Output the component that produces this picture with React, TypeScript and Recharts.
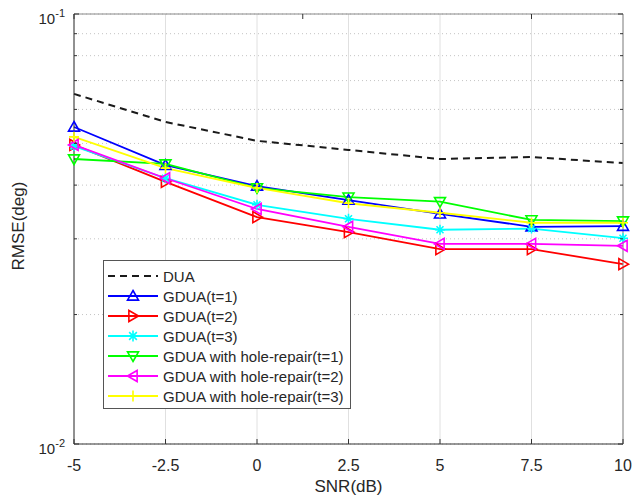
import React from 'react';
import { LineChart, Line, XAxis, YAxis, CartesianGrid, Legend, Label } from 'recharts';

const snr = [-5, -2.5, 0, 2.5, 5, 7.5, 10];
const xTicks = [-5, -2.5, 0, 2.5, 5, 7.5, 10];
const yTicks = [0.01, 0.02, 0.03, 0.04, 0.05, 0.06, 0.07, 0.08, 0.09, 0.1];

const dua = [0.0652, 0.0561, 0.0507, 0.0483, 0.046, 0.0465, 0.045];
const gdua1 = [0.0546, 0.0445, 0.0398, 0.0369, 0.0343, 0.032, 0.0321];
const gdua2 = [0.0496, 0.0407, 0.0337, 0.0311, 0.0284, 0.0284, 0.0262];
const gdua3 = [0.0493, 0.0415, 0.036, 0.0334, 0.0315, 0.0317, 0.0301];
const hr1 = [0.046, 0.0448, 0.0394, 0.0375, 0.0366, 0.0332, 0.033];
const hr2 = [0.0496, 0.0415, 0.0352, 0.032, 0.0292, 0.0292, 0.0289];
const hr3 = [0.0518, 0.0438, 0.0394, 0.0363, 0.0345, 0.0327, 0.0327];

const seriesNames = [
  'DUA',
  'GDUA(t=1)',
  'GDUA(t=2)',
  'GDUA(t=3)',
  'GDUA with hole-repair(t=1)',
  'GDUA with hole-repair(t=2)',
  'GDUA with hole-repair(t=3)',
];
const seriesValues = [dua, gdua1, gdua2, gdua3, hr1, hr2, hr3];
const seriesColors = ['#1a1a1a', '#0000ff', '#ff0000', '#00ffff', '#00ff00', '#ff00ff', '#ffff00'];
const seriesMarkers = ['none', 'up', 'right', 'star', 'down', 'left', 'plus'];

const keys = seriesNames.map((_, i) => `s${i}`);
const data = snr.map((x, j) => {
  const row: any = { snr: x };
  seriesValues.forEach((arr, i) => (row[keys[i]] = arr[j]));
  return row;
});

const FONT = "'Liberation Sans', Arial, sans-serif";
const TEXT = '#262626';

function markerPath(type: string, cx: number, cy: number, r: number): string {
  switch (type) {
    case 'up':
      return `M${cx},${cy - r}L${cx + r},${cy + r * 0.75}L${cx - r},${cy + r * 0.75}Z`;
    case 'down':
      return `M${cx},${cy + r}L${cx + r},${cy - r * 0.75}L${cx - r},${cy - r * 0.75}Z`;
    case 'right':
      return `M${cx + r},${cy}L${cx - r * 0.75},${cy - r}L${cx - r * 0.75},${cy + r}Z`;
    case 'left':
      return `M${cx - r},${cy}L${cx + r * 0.75},${cy - r}L${cx + r * 0.75},${cy + r}Z`;
    case 'plus':
      return `M${cx - r},${cy}L${cx + r},${cy}M${cx},${cy - r}L${cx},${cy + r}`;
    case 'star': {
      const d = r * 0.7;
      return `M${cx - r},${cy}L${cx + r},${cy}M${cx},${cy - r}L${cx},${cy + r}M${cx - d},${cy - d}L${cx + d},${cy + d}M${cx - d},${cy + d}L${cx + d},${cy - d}`;
    }
    default:
      return '';
  }
}

const makeDot = (type: string, color: string) => (props: any) => {
  const { cx, cy, index } = props;
  if (type === 'none' || cx == null || cy == null) return <g key={index} />;
  const r = type === 'plus' || type === 'star' ? 5 : 5.5;
  return (
    <path key={index} d={markerPath(type, cx, cy, r)} fill="none" stroke={color} strokeWidth={1.6} />
  );
};

const isMajor = (v: number) => Math.abs(Math.log10(v) - Math.round(Math.log10(v))) < 1e-9;

const LeftTick = (props: any) => {
  const { x, y, payload } = props;
  const v = payload.value;
  const major = isMajor(v);
  const exp = Math.round(Math.log10(v));
  return (
    <g>
      <line x1={x} x2={x + (major ? 5 : 3)} y1={y} y2={y} stroke="#333" />
      {major && (
        <text x={x - 9} y={y + 10} textAnchor="end" fontSize={15} fontFamily={FONT} fill={TEXT}>
          <tspan>10</tspan>
          <tspan dy={-7} fontSize={11}>{String(exp)}</tspan>
        </text>
      )}
    </g>
  );
};

const RightTick = (props: any) => {
  const { x, y, payload } = props;
  const major = isMajor(payload.value);
  return <line x1={x} x2={x - (major ? 5 : 3)} y1={y} y2={y} stroke="#333" />;
};

const BottomTick = (props: any) => {
  const { x, y, payload } = props;
  return (
    <g>
      <line x1={x} x2={x} y1={y} y2={y - 5} stroke="#333" />
      <text x={x} y={y + 27} textAnchor="middle" fontSize={16} fontFamily={FONT} fill={TEXT}>
        {String(payload.value)}
      </text>
    </g>
  );
};

const TopTick = (props: any) => {
  const { x, y } = props;
  return <line x1={x} x2={x} y1={y} y2={y + 5} stroke="#333" />;
};

const LegendBox = () => (
  <div
    style={{
      width: 246,
      height: 142,
      border: '1px solid #555',
      background: '#fff',
      boxSizing: 'content-box',
      paddingTop: 5,
      fontFamily: FONT,
      fontSize: 15,
      color: TEXT,
    }}
  >
    {seriesNames.map((name, i) => (
      <div key={name} style={{ height: 20, display: 'flex', alignItems: 'center', whiteSpace: 'nowrap' }}>
        <svg width={58} height={20} style={{ display: 'block', flex: 'none' }}>
          <line
            x1={4}
            x2={54}
            y1={10}
            y2={10}
            stroke={seriesColors[i]}
            strokeWidth={i === 0 ? 2 : 1.8}
            strokeDasharray={i === 0 ? '7 5' : undefined}
          />
          {seriesMarkers[i] !== 'none' && (
            <path d={markerPath(seriesMarkers[i], 29, 10, 5.5)} fill="none" stroke={seriesColors[i]} strokeWidth={1.6} />
          )}
        </svg>
        <span style={{ marginLeft: 1 }}>{name}</span>
      </div>
    ))}
  </div>
);

export default function App() {
  return (
    <div style={{ position: 'absolute', left: 0, top: 0, width: 634, height: 504, background: '#fff' }}>
      <LineChart width={634} height={504} data={data} margin={{ top: 0, right: 0, bottom: 0, left: 0 }}>
        <CartesianGrid vertical={true} horizontal={false} stroke="#e0e0e0" />
        <CartesianGrid vertical={false} horizontal={true} stroke="#c4c4c4" strokeDasharray="1 3" />
        <XAxis
          dataKey="snr"
          type="number"
          domain={[-5, 10]}
          ticks={xTicks}
          height={60}
          tickSize={0}
          tickMargin={0}
          tickLine={false}
          tick={<BottomTick />}
          stroke="#333"
          interval={0}
        >
          <Label
            content={(p: any) => {
              const vb = p.viewBox;
              return (
                <text x={vb.x + vb.width / 2} y={vb.y + 48} textAnchor="middle" fontSize={17} fontFamily={FONT} fill={TEXT}>
                  SNR(dB)
                </text>
              );
            }}
          />
        </XAxis>
        <XAxis
          xAxisId="top"
          orientation="top"
          type="number"
          domain={[-5, 10]}
          ticks={xTicks}
          height={14}
          tickSize={0}
          tickMargin={0}
          tickLine={false}
          tick={<TopTick />}
          stroke="#888"
          interval={0}
          allowDataOverflow
        />
        <YAxis
          scale="log"
          type="number"
          domain={[0.01, 0.1]}
          ticks={yTicks}
          width={74}
          tickSize={0}
          tickMargin={0}
          tickLine={false}
          tick={<LeftTick />}
          stroke="#333"
          interval={0}
          allowDataOverflow
        >
          <Label
            content={(p: any) => {
              const vb = p.viewBox;
              const cy = vb.y + vb.height / 2 - 3;
              return (
                <text x={24} y={cy} transform={`rotate(-90, 24, ${cy})`} textAnchor="middle" fontSize={17} fontFamily={FONT} fill={TEXT}>
                  RMSE(deg)
                </text>
              );
            }}
          />
        </YAxis>
        <YAxis
          yAxisId="right"
          orientation="right"
          scale="log"
          type="number"
          domain={[0.01, 0.1]}
          ticks={yTicks}
          width={11}
          tickSize={0}
          tickMargin={0}
          tickLine={false}
          tick={<RightTick />}
          stroke="#888"
          interval={0}
          allowDataOverflow
        />
        {keys.map((k, i) => (
          <Line
            key={k}
            dataKey={k}
            name={seriesNames[i]}
            stroke={seriesColors[i]}
            strokeWidth={i === 0 ? 2 : 1.8}
            strokeDasharray={i === 0 ? '7 5' : undefined}
            dot={makeDot(seriesMarkers[i], seriesColors[i])}
            activeDot={false}
            isAnimationActive={false}
          />
        ))}
        <Legend
          layout="horizontal"
          verticalAlign="middle"
          align="center"
          content={<LegendBox />}
          wrapperStyle={{ left: 103, top: 260, width: 248, height: 148 }}
        />
      </LineChart>
    </div>
  );
}
